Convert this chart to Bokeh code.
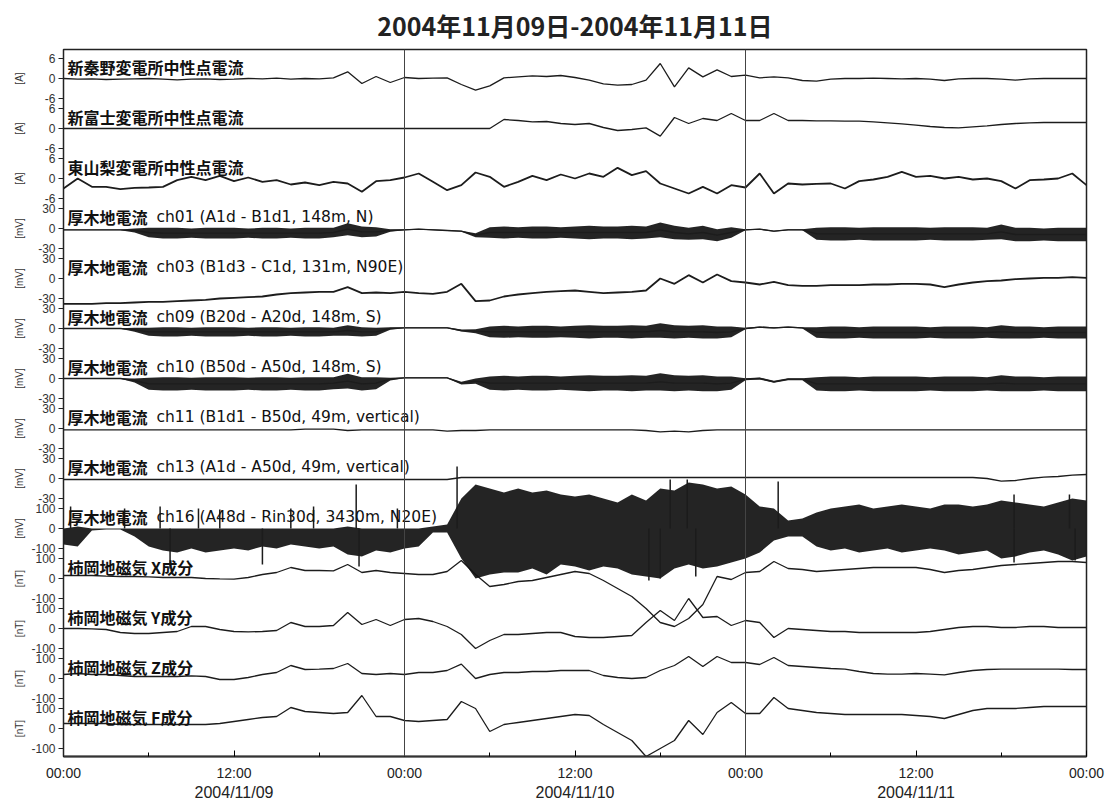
from bokeh.plotting import figure
from bokeh.models import Range1d, LinearAxis, FixedTicker, Span
from bokeh.embed import file_html
from bokeh.resources import INLINE
from bokeh.core.properties import value

# ---------------- data (hourly, 2004/11/09 00:00 -> 2004/11/12 00:00) ----------------
hours = list(range(73))

shinhadano = [0.0, -0.2, -0.1, -0.3, -0.2, -0.1, 0.0, -0.2, -0.4, -0.2, -0.1, -0.3,
              -0.2, 0.0, -0.1, 0.1, -0.2, 0.0, -0.1, 0.2, 2.0, -1.5, 0.6, -1.2,
              0.3, 0.0, 0.1, 0.2, -1.8, -3.5, -2.2, 0.2, 0.5, 0.8, 0.6, 0.9,
              0.3, -0.5, -1.6, -2.0, -1.8, -0.5, 4.5, -2.5, 3.2, 0.5, 2.6, 0.6,
              1.0, 0.2, 0.5, 0.2, -0.6, -0.8, -0.2, 0.0, 0.0, 0.1, 0.0, -0.1,
              0.0, -0.2, -0.6, -0.1, 0.0, 0.0, -0.2, -0.5, -0.1, 0.0, 0.0, 0.0,
              0.0]
shinfuji = [0.0] * 12 + [0.0] * 12 + \
           [0.0, 0.0, 0.0, 0.0, 0.0, 0.0, 0.0, 2.7, 2.4, 2.0, 2.1, 1.5,
            1.2, 1.5, 0.3, -0.6, -0.3, 0.2, -2.3, 3.3, 1.5, 3.0, 2.4, 4.5,
            2.4, 2.4, 4.5, 2.4, 2.4, 2.3, 2.3, 2.2, 2.2, 2.0, 1.7, 1.4,
            1.0, 0.6, 0.3, 0.2, 0.5, 0.8, 1.2, 1.5, 1.7, 1.8, 1.8, 1.8,
            1.8]
higashiyamanashi = [-3.0, 0.0, -2.5, -2.5, -3.2, -2.8, -2.7, -2.5, -0.5, 0.5, -0.5, 0.8,
                    -0.8, 0.3, -1.0, -0.5, -1.8, -1.2, -2.0, -1.0, -1.5, -4.0, -0.8, -0.5,
                    0.3, 1.5, -1.0, -3.5, -2.0, 1.8, 0.5, -2.5, -1.0, 0.8, -0.5, 1.2,
                    0.0, 1.5, 0.5, 3.2, 1.0, 2.2, -1.5, -3.0, -4.5, -2.5, -4.5, -2.0,
                    -2.7, 1.5, -4.5, -1.5, -1.8, -1.6, -1.5, -3.0, -0.8, -0.3, 0.5, 2.0,
                    0.5, 0.8, 0.0, 0.5, -0.3, 0.0, -0.8, -3.0, -0.5, -0.3, 0.0, 1.5,
                    -2.0]
ch01 = [-2, -2, -2, -2, -2, -3, -6, -7, -7, -7, -7, -7,
        -7, -7, -7, -7, -7, -7, -7, -6, -1, -5, -5, -3,
        -2, -1, -2, -3, -4, -10, -6, -6, -6, -6, -6, -6,
        -6, -6, -6, -6, -6, -6, -2, -6, -8, -6, -10, -6,
        -2, -1, -4, -2, -2, -8, -8, -8, -8, -8, -8, -8,
        -8, -8, -8, -8, -8, -8, -5, -9, -9, -9, -9, -9,
        -9]
ch01_amp = [0.5, 0.5, 0.5, 0.5, 0.5, 3, 7, 8, 8, 7, 8, 8,
            8, 7, 8, 8, 7, 8, 8, 7, 9, 8, 7, 2,
            0.8, 0.8, 0.8, 0.8, 0.8, 3, 8, 9, 8, 9, 9, 8,
            9, 10, 9, 9, 10, 9, 11, 10, 9, 10, 9, 8,
            0.8, 0.8, 0.8, 0.8, 0.8, 9, 10, 10, 9, 10, 10, 10,
            10, 9, 10, 10, 10, 9, 11, 10, 10, 9, 10, 10,
            10]
ch03 = [-38, -38, -38, -37, -37, -36, -35, -35, -34, -33, -32, -30,
        -29, -28, -27, -24, -22, -21, -20, -20, -13, -22, -21, -22,
        -20, -22, -23, -20, -8, -34, -33, -27, -24, -22, -20, -19,
        -18, -20, -22, -21, -20, -18, 0, -8, 5, -6, 6, -4,
        -6, -9, -5, -10, -11, -11, -10, -10, -10, -9, -9, -8,
        -8, -9, -13, -9, -6, -4, -3, -1, 0, 1, 1, 2,
        1]
ch09 = [0, 0, 0, 0, 0, -2, -5, -5, -5, -5, -5, -5,
        -5, -5, -5, -5, -5, -5, -5, -5, -3, -5, -5, 0,
        1, 1, 1, 1, -3, -4, -5, -5, -5, -5, -5, -5,
        -5, -5, -5, -5, -5, -5, -3, -5, -5, -5, -6, -5,
        0, 2, 1, 2, 1, -6, -6, -6, -6, -6, -6, -6,
        -6, -6, -6, -6, -6, -6, -5, -6, -6, -6, -6, -6,
        -6]
ch09_amp = [0.5, 0.5, 0.5, 0.5, 0.5, 3, 6, 7, 7, 6, 7, 7,
            7, 6, 7, 7, 6, 7, 7, 6, 8, 7, 6, 2,
            0.8, 0.8, 0.8, 0.8, 1.5, 3, 8, 9, 8, 9, 9, 8,
            9, 10, 9, 9, 10, 9, 11, 10, 9, 10, 9, 8,
            1, 1, 1, 1, 1, 8, 9, 9, 8, 9, 9, 9,
            9, 8, 9, 9, 9, 8, 10, 9, 9, 8, 9, 9,
            9]
ch10 = [0, 0, 0, 0, 0, -3, -8, -8, -8, -8, -8, -8,
        -8, -8, -8, -8, -8, -8, -8, -7, -4, -8, -7, -1,
        1, 1, 1, 1, -7, -4, -7, -7, -7, -7, -7, -7,
        -7, -7, -7, -7, -7, -7, -5, -7, -7, -7, -8, -7,
        -1, 0, -5, -1, -1, -8, -8, -8, -8, -8, -8, -8,
        -8, -8, -8, -8, -8, -8, -7, -8, -8, -8, -8, -8,
        -8]
ch10_amp = [0.5, 0.5, 0.5, 0.5, 0.5, 3, 9, 10, 10, 9, 10, 10,
            10, 9, 10, 10, 9, 10, 10, 9, 11, 10, 9, 2,
            0.8, 0.8, 0.8, 0.8, 2, 4, 10, 11, 10, 11, 11, 10,
            11, 12, 11, 11, 12, 11, 13, 12, 11, 12, 11, 10,
            1.5, 1.5, 1.5, 1.5, 1.5, 10, 11, 11, 10, 11, 11, 11,
            11, 10, 11, 11, 11, 10, 12, 11, 11, 10, 11, 11,
            11]
ch11 = [-2] * 12 + \
       [-2, -2, -2, -2, -2, -1, -1, -1, -3, -2, -2, -2,
        -2, -2, -2, -4, -3, -3, -2, -2, -2, -2, -2, -2,
        -2, -2, -2, -2, -2, -3, -5, -4, -5, -3, -2, -2] + \
       [-2] * 24 + [-2]
ch13 = [-1.5] * 24 + [-1.5, -1.5, -1.5, -1.5] + [1.5] * 8 + [1.5] * 24 + \
       [1.5, 1.5, 1.5, 1.5, 1.5, 0, -4, -3, 0, 2, 3, 5, 6]
ch16_upper = [0, 10, 0, 0, 0, 0, 0, 0, 0, 0, 0, 0,
              0, 0, 0, 0, 0, 0, 0, 0, 10, 0, 0, 0,
              0, 0, 10, 20, 150, 220, 200, 180, 200, 180, 190, 170,
              160, 170, 150, 130, 170, 140, 200, 190, 230, 220, 200, 210,
              170, 110, 100, 40, 50, 80, 100, 110, 120, 100, 110, 120,
              110, 100, 120, 120, 110, 120, 140, 130, 120, 110, 130, 150,
              140]
ch16_lower = [-80, -90, -10, -5, -5, -40, -90, -110, -120, -100, -120, -110,
              -100, -110, -90, -100, -80, -90, -100, -90, -130, -140, -110, -120,
              -100, -90, -20, -20, -150, -250, -230, -220, -220, -200, -230, -180,
              -190, -210, -190, -200, -230, -240, -250, -200, -180, -200, -190, -170,
              -150, -120, -60, -40, -40, -90, -110, -100, -120, -110, -100, -120,
              -110, -100, -110, -130, -120, -110, -150, -140, -120, -110, -130, -160,
              -140]
ch16_spike_t = [0.5, 4.3, 6.8, 9.5, 11.0, 16.0, 17.6, 20.6, 23.5, 27.7, 42.7, 43.9,
                50.3, 66.9, 70.8, 7.5, 14.0, 20.8, 41.2, 42.0, 44.5, 66.9, 71.2]
ch16_spike_v = [110, 100, 110, 100, 95, 100, 110, 220, 100, 310, 245, 245,
                235, 170, 170, -200, -180, -190, -260, -250, -240, -170, -160]
mag_x = [15, 15, 15, 12, 10, 10, 8, 5, 5, 5, 0, -2,
         -3, 5, 20, 30, 55, 40, 40, 38, 70, 30, 40, 30,
         25, 20, 20, 35, 90, 20, -40, -30, -15, -10, 5, 20,
         35, 25, -10, -50, -90, -150, -220, -240, -200, -130, 10, -5,
         30, 35, 85, 50, 45, 35, 40, 45, 50, 55, 55, 55,
         55, 45, 30, 40, 45, 55, 65, 70, 75, 80, 85, 85,
         80]
mag_y = [0, 0, -2, -5, -20, -25, -25, -20, -15, 10, 10, -5,
         -15, -17, -15, -10, 30, 10, 10, 15, 80, 20, 45, 15,
         45, 50, 35, 10, -30, -100, -60, -30, -30, -25, -20, -20,
         -40, -45, -45, -40, -35, 30, 90, 40, 150, 55, 60, 15,
         40, 30, -45, 0, -5, -10, -15, -15, -20, -20, -20, -20,
         -20, -15, -5, 5, 10, 10, 5, 5, 10, 10, 5, 5,
         5]
mag_z = [20, 25, 20, 20, 15, 10, 10, 10, 10, 13, 10, -5,
         -5, 5, 20, 30, 65, 45, 47, 50, 75, 25, 20, 25,
         20, 30, 30, 40, 72, 0, 20, 30, 30, 35, 35, 40,
         40, 40, 15, 5, 0, 5, 40, 65, 110, 60, 110, 80,
         80, 70, 105, 65, 60, 55, 50, 47, 35, 25, 22, 22,
         25, 22, 18, 30, 40, 45, 47, 47, 47, 47, 47, 45,
         45]
mag_f = [25, 25, 25, 25, 20, 20, 20, 20, 20, 20, 20, 25,
         35, 45, 55, 60, 105, 85, 80, 75, 80, 165, 60, 60,
         40, 35, 40, 45, 135, 100, -15, 20, 30, 40, 50, 60,
         70, 65, 20, -20, -60, -140, -100, -60, 40, -30, 80, 130,
         75, 75, 155, 100, 90, 80, 75, 70, 70, 70, 70, 70,
         65, 60, 50, 70, 90, 100, 100, 100, 105, 110, 110, 110,
         110]

panel_jp = ["新秦野変電所中性点電流", "新富士変電所中性点電流", "東山梨変電所中性点電流",
            "厚木地電流", "厚木地電流", "厚木地電流", "厚木地電流", "厚木地電流", "厚木地電流",
            "厚木地電流", "柿岡地磁気 X成分", "柿岡地磁気 Y成分", "柿岡地磁気 Z成分", "柿岡地磁気 F成分"]
panel_en = ["", "", "",
            "ch01  (A1d - B1d1, 148m, N)", "ch03  (B1d3 - C1d, 131m, N90E)",
            "ch09  (B20d - A20d, 148m, S)", "ch10  (B50d - A50d, 148m, S)",
            "ch11  (B1d1 - B50d, 49m, vertical)", "ch13  (A1d - A50d, 49m, vertical)",
            "ch16  (A48d - Rin30d, 3430m, N20E)", "", "", "", ""]
tick_max = [6, 6, 6, 30, 30, 30, 30, 30, 30, 100, 100, 100, 100, 100]
units = ["[A]"] * 3 + ["[mV]"] * 7 + ["[nT]"] * 4
time_ticks = [0, 12, 24, 36, 48, 60, 72]
time_labels = ["00:00", "12:00", "00:00", "12:00", "00:00", "12:00", "00:00"]
minor_time_ticks = [6, 18, 30, 42, 54, 66]
date_ticks = [12, 36, 60]
date_labels = ["2004/11/09", "2004/11/10", "2004/11/11"]
title_text = "2004年11月09日-2004年11月11日"

series = [shinhadano, shinfuji, higashiyamanashi, ch01, ch03, ch09, ch10, ch11, ch13,
          None, mag_x, mag_y, mag_z, mag_f]
bands = {3: ch01_amp, 5: ch09_amp, 6: ch10_amp}

# ---------------- layout ----------------
Y_TOP, Y_BOT, HALF = 0.58, -13.56, 0.4
INK = "#1c1c1c"

p = figure(width=1117, height=808, x_range=Range1d(0, 72), y_range=Range1d(Y_BOT, Y_TOP),
           output_backend="svg", toolbar_location=None, x_axis_type=None, y_axis_type=None,
           min_border_left=63, min_border_right=31, min_border_top=49, min_border_bottom=52)
p.xgrid.visible = False
p.ygrid.visible = False
p.outline_line_color = "#222"
p.outline_line_width = 1.5
p.background_fill_color = "white"
p.border_fill_color = "white"

for k, tmax in enumerate(tick_max):
    p.extra_y_ranges[f"p{k}"] = Range1d(start=(Y_BOT + k) * tmax / HALF,
                                        end=(Y_TOP + k) * tmax / HALF)

for t in (24, 48):
    p.add_layout(Span(location=t, dimension="height", line_color="#444", line_width=1))

for k, vals in enumerate(series):
    rn = f"p{k}"
    if k in bands:
        amp = bands[k]
        lo = [c - a for c, a in zip(vals, amp)]
        hi = [c + a for c, a in zip(vals, amp)]
        p.varea(x=hours, y1=lo, y2=hi, fill_color="#111", fill_alpha=0.92, y_range_name=rn)
    if vals is not None:
        lw = 1.8 if k in (2, 4) else 1.3
        p.line(hours, vals, line_color=INK, line_width=lw, y_range_name=rn)

# ch16 envelope and spikes
p.varea(x=hours, y1=ch16_lower, y2=ch16_upper, fill_color="#111", fill_alpha=0.92, y_range_name="p9")
p.segment(x0=ch16_spike_t, y0=[0] * len(ch16_spike_t), x1=ch16_spike_t, y1=ch16_spike_v,
          line_color=INK, line_width=1.5, y_range_name="p9")

# panel titles
for k in range(14):
    ylab = -k + 0.24
    p.text(x=[0.28], y=[ylab], text=[panel_jp[k]], text_font=value("Noto Sans CJK JP"),
           text_font_style="bold", text_font_size="16px", text_baseline="middle",
           text_align="left", text_color="#111")
    if panel_en[k]:
        p.text(x=[0.28], y=[ylab], x_offset=89, text=[panel_en[k]], text_font=value("DejaVu Sans"),
               text_font_size="15.5px", text_baseline="middle", text_align="left", text_color="#111")

# left axis with per-panel ticks
ticks, overrides = [], {}
for k, tmax in enumerate(tick_max):
    for frac, lab in ((HALF, str(tmax)), (0.0, "0"), (-HALF, str(-tmax))):
        pos = round(-k + frac, 4)
        ticks.append(pos)
        overrides[pos] = lab
yaxis = LinearAxis(ticker=FixedTicker(ticks=ticks, minor_ticks=[]), major_label_overrides=overrides)
yaxis.axis_line_color = "#222"
yaxis.major_tick_out = 5
yaxis.major_tick_in = 0
yaxis.major_tick_line_color = "#222"
yaxis.major_label_standoff = 3
yaxis.major_label_text_font = "Liberation Sans"
yaxis.major_label_text_font_size = "12px"
yaxis.major_label_text_color = "#333"
p.add_layout(yaxis, "left")

# unit labels as a second (label-only) left axis
unit_pos = [float(-k) for k in range(14)]
uaxis = LinearAxis(ticker=FixedTicker(ticks=unit_pos, minor_ticks=[]),
                   major_label_overrides={pos: u for pos, u in zip(unit_pos, units)})
uaxis.axis_line_color = None
uaxis.major_tick_line_color = None
uaxis.major_tick_in = 0
uaxis.major_tick_out = 0
uaxis.major_label_standoff = 4
uaxis.major_label_orientation = "vertical"
uaxis.major_label_text_font = "Liberation Sans"
uaxis.major_label_text_font_size = "10px"
uaxis.major_label_text_color = "#333"
p.add_layout(uaxis, "left")

# title drawn as a label-only axis above the frame
taxis = LinearAxis(ticker=FixedTicker(ticks=[36], minor_ticks=[]),
                   major_label_overrides={36: title_text})
taxis.axis_line_color = None
taxis.major_tick_line_color = None
taxis.major_tick_in = 0
taxis.major_tick_out = 0
taxis.major_label_standoff = 7
taxis.major_label_text_font = "Noto Sans CJK JP"
taxis.major_label_text_font_size = "25px"
taxis.major_label_text_font_style = "bold"
taxis.major_label_text_color = "#222"
p.add_layout(taxis, "above")

# bottom axes
xaxis = LinearAxis(ticker=FixedTicker(ticks=time_ticks, minor_ticks=minor_time_ticks),
                   major_label_overrides={t: l for t, l in zip(time_ticks, time_labels)})
xaxis.axis_line_width = 2
xaxis.axis_line_color = "#333"
xaxis.major_tick_in = 6
xaxis.major_tick_out = 0
xaxis.minor_tick_in = 4
xaxis.minor_tick_out = 0
xaxis.major_label_standoff = 8
xaxis.major_label_text_font = "Liberation Sans"
xaxis.major_label_text_font_size = "14px"
xaxis.major_label_text_color = "#222"
p.add_layout(xaxis, "below")

daxis = LinearAxis(ticker=FixedTicker(ticks=date_ticks, minor_ticks=[]),
                   major_label_overrides={t: l for t, l in zip(date_ticks, date_labels)})
daxis.axis_line_color = None
daxis.major_tick_line_color = None
daxis.major_tick_in = 0
daxis.major_tick_out = 0
daxis.major_label_standoff = 0
daxis.major_label_text_font = "Liberation Sans"
daxis.major_label_text_font_size = "16px"
daxis.major_label_text_color = "#222"
p.add_layout(daxis, "below")

open("out.html", "w").write(file_html(p, INLINE))
